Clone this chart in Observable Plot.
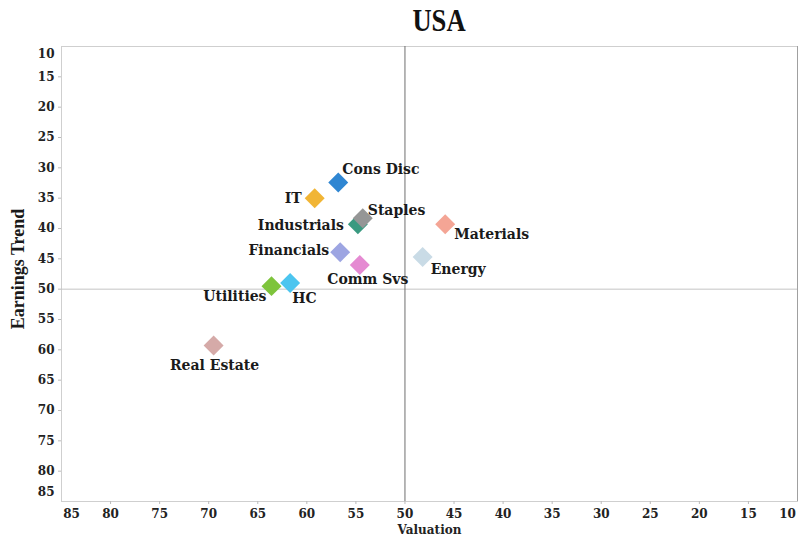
<!DOCTYPE html>
<html>
<head>
<meta charset="utf-8">
<script src="https://cdn.jsdelivr.net/npm/d3@7"></script>
<script src="https://cdn.jsdelivr.net/npm/@observablehq/plot@0.6"></script>
<style>
  html, body { margin: 0; padding: 0; background: #fff; }
  #wrap { width: 798px; height: 539px; position: relative; overflow: hidden; }
  #title { height: 40px; line-height: 40px; text-align: center; padding-left: 80px; box-sizing: border-box; }
  #title span { display: inline-block; font-family: "Liberation Serif", serif; font-weight: bold; font-size: 32px; color: #111; transform: scaleX(0.83); }
</style>
</head>
<body>
<div id="wrap">
  <div id="title"><span>USA</span></div>
  <div id="chart"></div>
</div>
<script>
// ---- data ----
const sectors   = ["Cons Disc", "IT", "Industrials", "Staples", "Materials", "Financials", "Comm Svs", "Energy", "Utilities", "HC", "Real Estate"];
const valuation = [56.8, 59.2, 54.8, 54.3, 45.9, 56.6, 54.6, 48.2, 63.6, 61.7, 69.5];
const earnings  = [32.4, 35.0, 39.3, 38.3, 39.3, 43.9, 46.0, 44.7, 49.5, 49.0, 59.3];
const colors    = ["#2f86d2", "#f1b535", "#3a9a80", "#959696", "#f4a595", "#9da5e2", "#e58ad2", "#c9dbe6", "#7ec43c", "#4cc5ef", "#d5aaa8"];
const xTicks    = [80, 75, 70, 65, 60, 55, 50, 45, 40, 35, 30, 25, 20, 15];
const yTicks    = [15, 20, 25, 30, 35, 40, 45, 50, 55, 60, 65, 70, 75, 80];

const data = sectors.map((s, i) => ({sector: s, x: valuation[i], y: earnings[i], color: colors[i]}));

// label placement (styling)
const place = {
  "Cons Disc":   {anchor: "start",  dx: 4,   dy: -13},
  "IT":          {anchor: "end",    dx: -13, dy: 0},
  "Staples":     {anchor: "start",  dx: 5,   dy: -8},
  "Industrials": {anchor: "end",    dx: -14, dy: 1},
  "Materials":   {anchor: "start",  dx: 9,   dy: 10},
  "Financials":  {anchor: "end",    dx: -11, dy: -2},
  "Comm Svs":    {anchor: "middle", dx: 8,   dy: 15},
  "Energy":      {anchor: "start",  dx: 8,   dy: 13},
  "Utilities":   {anchor: "end",    dx: -5,  dy: 10},
  "HC":          {anchor: "start",  dx: 2,   dy: 15},
  "Real Estate": {anchor: "middle", dx: 1,   dy: 20}
};

const labelFont = {fontFamily: "DejaVu Serif", fontSize: 14, fontWeight: "bold", fill: "#1a1a1a"};

const labelMarks = data.map(d => Plot.text([d], {
  x: "x", y: "y", text: "sector",
  textAnchor: place[d.sector].anchor,
  dx: place[d.sector].dx, dy: place[d.sector].dy,
  ...labelFont
}));

const dotOrder = ["Cons Disc", "IT", "Industrials", "Staples", "Materials", "Financials", "Comm Svs", "Energy", "Utilities", "HC", "Real Estate"];

const chart = Plot.plot({
  width: 798,
  height: 499,
  marginTop: 6,
  marginBottom: 38,
  marginLeft: 61,
  marginRight: 1,
  style: {fontFamily: "DejaVu Serif", fontSize: "12px", fontWeight: "bold", color: "#222", background: "#fff"},
  x: {domain: [85, 10]},
  y: {domain: [85, 10]},
  marks: [
    Plot.frame({stroke: "#cfcfcf"}),
    Plot.ruleX([10], {stroke: "#a0a0a0"}),
    Plot.ruleY([50], {stroke: "#c4c4c4"}),
    Plot.ruleX([50], {stroke: "#6e6e6e"}),
    Plot.axisX({ticks: xTicks, tickSize: 3, tickPadding: 5, stroke: "#bbb", label: null, fill: "#222"}),
    Plot.axisX({ticks: [85], tickSize: 0, tickPadding: 8, dx: 10, label: null, fill: "#222"}),
    Plot.axisX({ticks: [10], tickSize: 0, tickPadding: 8, dx: -10, label: null, fill: "#222"}),
    Plot.axisY({ticks: yTicks, tickSize: 3, tickPadding: 4, stroke: "#bbb", label: null, fill: "#222"}),
    Plot.axisY({ticks: [10], tickSize: 0, tickPadding: 7, dy: 8, label: null, fill: "#222"}),
    Plot.axisY({ticks: [85], tickSize: 0, tickPadding: 7, dy: -9, label: null, fill: "#222"}),
    Plot.text(["Valuation"], {frameAnchor: "bottom", dy: 32, fontFamily: "DejaVu Serif", fontSize: 12, fontWeight: "bold", fill: "#222"}),
    Plot.text(["Earnings Trend"], {frameAnchor: "left", textAnchor: "middle", dx: -43, dy: -5, rotate: -90, fontFamily: "Liberation Serif", fontSize: 18, fontWeight: "bold", fill: "#1a1a1a"}),
    Plot.dot(dotOrder.map(s => data.find(d => d.sector === s)), {
      x: "x", y: "y", symbol: "diamond2", r: 9, fill: "color", stroke: null
    }),
    ...labelMarks
  ]
});

document.getElementById("chart").appendChild(chart);
</script>
</body>
</html>
